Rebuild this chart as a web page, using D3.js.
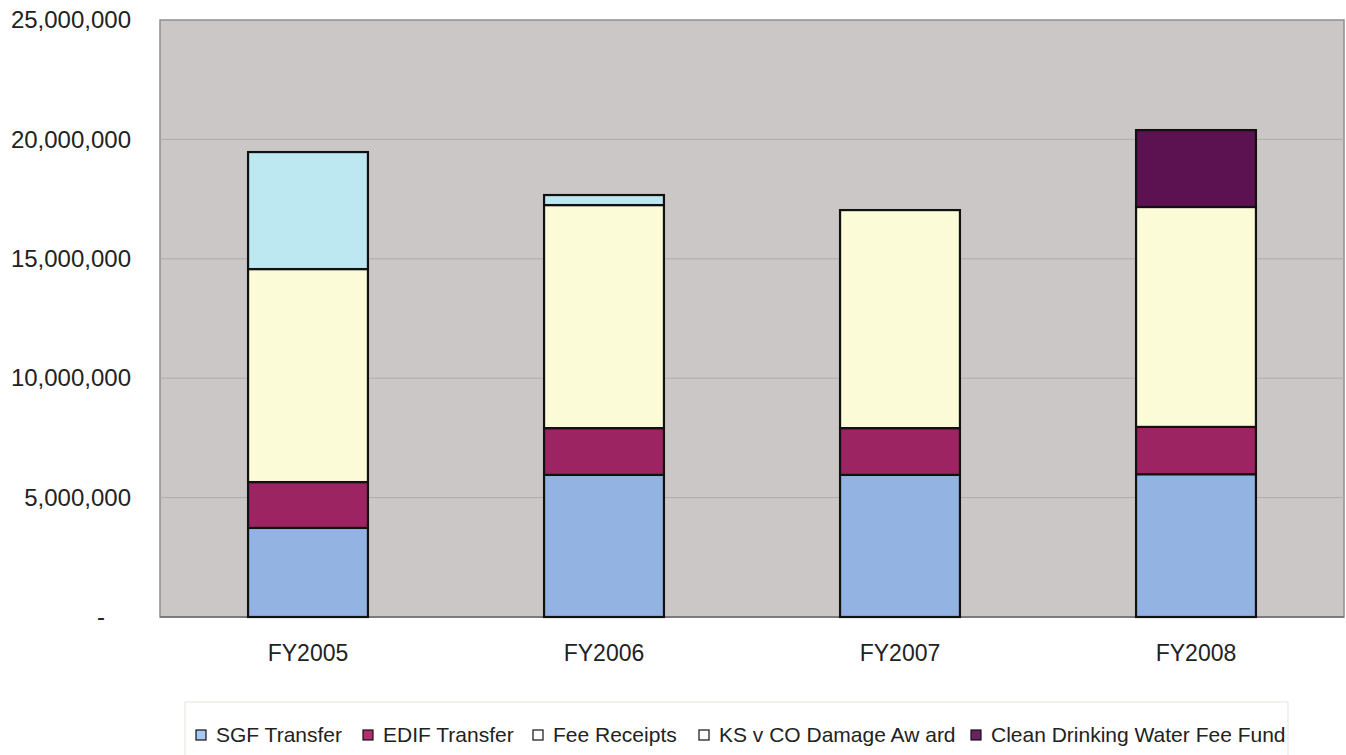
<!DOCTYPE html>
<html><head><meta charset="utf-8">
<script src="https://cdn.jsdelivr.net/npm/d3@7"></script>
<style>
html,body{margin:0;padding:0;background:#fff;}
svg{display:block;font-family:"Liberation Sans",Arial,sans-serif;}
</style></head>
<body>
<svg id="chart" width="1346" height="755"></svg>
<script>
const categories = ["FY2005","FY2006","FY2007","FY2008"];
const seriesNames = ["SGF Transfer","EDIF Transfer","Fee Receipts","KS v CO Damage Aw ard","Clean Drinking Water Fee Fund"];
const sgfTransfer   = [3730000, 5950000, 5950000, 5980000];
const edifTransfer  = [1920000, 1960000, 1960000, 1980000];
const feeReceipts   = [8920000, 9340000, 9130000, 9210000];
const damageAward   = [4900000, 420000, 0, 0];
const cleanWaterFee = [0, 0, 0, 3220000];
const yTicks = [0, 5000000, 10000000, 15000000, 20000000, 25000000];

const barColors = ["#93b3e3","#9c2462","#fbfbd8","#bde8f2","#5c1150"];
const legendColors = ["#a9c8f2","#b2306f","#ffffff","#ffffff","#6a2262"];

const svg = d3.select("#chart");
const m = {left:160, top:20, right:1344, bottom:617};

const x = d3.scaleBand().domain(categories).range([m.left, m.right])
  .paddingInner(0.595).paddingOuter(0.2975);
const y = d3.scaleLinear().domain([0, 25000000]).range([m.bottom, m.top]);

// plot background
svg.append("rect").attr("x", m.left).attr("y", m.top)
  .attr("width", m.right - m.left).attr("height", m.bottom - m.top)
  .attr("fill", "#cbc7c6").attr("stroke", "#8f8f8f").attr("stroke-width", 1.5);

// gridlines
svg.append("g").selectAll("line").data(yTicks.filter(d => d > 0 && d < 25000000)).join("line")
  .attr("x1", m.left).attr("x2", m.right)
  .attr("y1", d => y(d)).attr("y2", d => y(d))
  .attr("stroke", "#b0acab").attr("stroke-width", 1);

// y axis
const fmt = d3.format(",");
const yAxis = svg.append("g").attr("transform", `translate(${m.left},0)`)
  .call(d3.axisLeft(y).tickValues(yTicks).tickSize(0).tickPadding(29)
    .tickFormat(d => d === 0 ? "-" : fmt(d)));
yAxis.select(".domain").remove();
yAxis.selectAll("text").attr("font-size", 24).attr("fill", "#222")
  .attr("font-family", "Liberation Sans, Arial, sans-serif");
yAxis.selectAll(".tick").filter(d => d === 0).select("text").attr("x", -55);

// bottom axis line
svg.append("line").attr("x1", m.left).attr("x2", m.right)
  .attr("y1", m.bottom).attr("y2", m.bottom).attr("stroke", "#6f6f6f").attr("stroke-width", 1.5);

// x axis labels
const xAxis = svg.append("g").attr("transform", `translate(0,${m.bottom})`)
  .call(d3.axisBottom(x).tickSize(0).tickPadding(28));
xAxis.select(".domain").remove();
xAxis.selectAll("text").attr("font-size", 23).attr("fill", "#222")
  .attr("font-family", "Liberation Sans, Arial, sans-serif");

// stacked data
const seriesArrays = [sgfTransfer, edifTransfer, feeReceipts, damageAward, cleanWaterFee];
const rows = categories.map((c, i) => {
  const r = {cat: c};
  seriesNames.forEach((s, j) => r[s] = seriesArrays[j][i]);
  return r;
});
const stack = d3.stack().keys(seriesNames)(rows);

svg.append("g").selectAll("g").data(stack).join("g")
  .attr("fill", (d, i) => barColors[i])
  .selectAll("rect").data(d => d.filter(p => p[1] - p[0] > 0)).join("rect")
  .attr("x", d => x(d.data.cat))
  .attr("width", x.bandwidth())
  .attr("y", d => y(d[1]))
  .attr("height", d => y(d[0]) - y(d[1]))
  .attr("stroke", "#111").attr("stroke-width", 2.2);

// legend
const lg = svg.append("g");
lg.append("rect").attr("x", 185).attr("y", 702).attr("width", 1103).attr("height", 60)
  .attr("fill", "#fff").attr("stroke", "#e6e3dc").attr("stroke-width", 1);
const legendX = [196, 363, 533, 699, 971];
const item = lg.selectAll("g.item").data(seriesNames).join("g").attr("class", "item")
  .attr("transform", (d, i) => `translate(${legendX[i]},735)`);
item.append("rect").attr("x", 0).attr("y", -5).attr("width", 10).attr("height", 10)
  .attr("fill", (d, i) => legendColors[i]).attr("stroke", "#111").attr("stroke-width", 1.2);
item.append("text").attr("x", 20).attr("y", 0).attr("dy", "0.35em")
  .attr("font-size", 21).attr("fill", "#222").text(d => d);
</script>
</body></html>
